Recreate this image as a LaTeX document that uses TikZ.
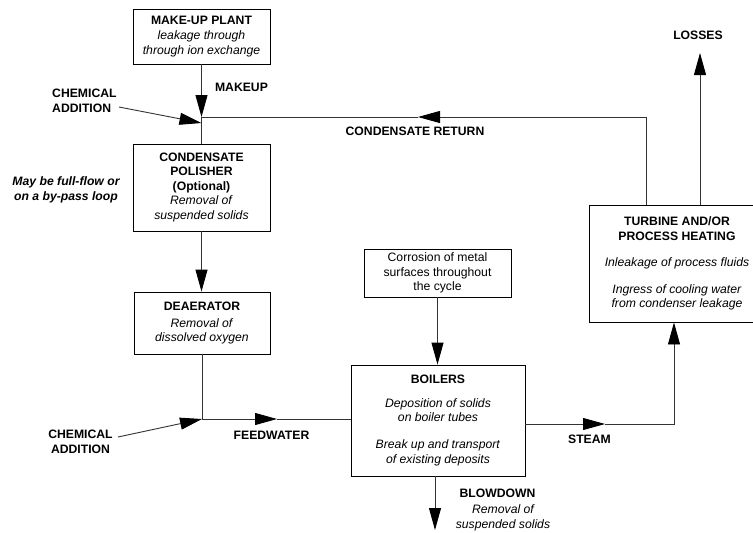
\documentclass[tikz,border=0pt]{standalone}
\usepackage{fontspec}
\setmainfont{Liberation Sans}
\usetikzlibrary{arrows.meta}
\newcommand\myfs{\fontsize{12.2}{14.5}\selectfont}
\begin{document}
\begin{tikzpicture}[x=1pt,y=-1pt,
  box/.style={draw=black, line width=0.9pt, align=center, inner sep=0pt, font=\myfs},
  lbl/.style={align=center, inner sep=0pt, font=\myfs\bfseries},
  conn/.style={draw=black!80, line width=0.9pt},
  arr/.style={conn, -{Triangle[length=22pt,width=12pt,color=black]}},
]
\useasboundingbox (0,0) rectangle (753,533);

% boxes
\node[box, minimum width=137pt, minimum height=55pt] (makeup) at (201.5,36.5)
  {\textbf{MAKE-UP PLANT}\\[1pt]\textit{leakage through}\\\textit{through ion exchange}};
\node[box, minimum width=137pt, minimum height=87pt] (polisher) at (201.5,187.5)
  {\textbf{CONDENSATE}\\\textbf{POLISHER}\\\textbf{(Optional)}\\\textit{Removal of}\\\textit{suspended solids}};
\node[box, minimum width=136pt, minimum height=62pt] (deaerator) at (202,323)
  {\textbf{DEAERATOR}\\[2.5pt]\textit{Removal of}\\\textit{dissolved oxygen}};
\node[box, minimum width=147pt, minimum height=48pt] (corrosion) at (437.5,273)
  {Corrosion of metal\\surfaces throughout\\the cycle};
\node[box, minimum width=174pt, minimum height=111pt] (boilers) at (438,420.5)
  {\textbf{BOILERS}\\[9.5pt]\textit{Deposition of solids}\\\textit{on boiler tubes}\\[12.5pt]\textit{Break up and transport}\\\textit{of existing deposits}};
\node[box, minimum width=176pt, minimum height=117pt] (turbine) at (677,263.5)
  {\textbf{TURBINE AND/OR}\\\textbf{PROCESS HEATING}\\[11.5pt]\textit{Inleakage of process fluids}\\[12.5pt]\textit{Ingress of cooling water}\\\textit{from condenser leakage}};

% labels
\node[lbl] (makeuplbl) at (241.5,87) {MAKEUP};
\node[lbl, anchor=west, align=left] (chem1) at (52,101) {CHEMICAL\\ADDITION};
\node[lbl] (crlbl) at (415,131) {CONDENSATE RETURN};
\node[lbl] (losses) at (698,35) {LOSSES};
\node[lbl, font=\myfs\bfseries\itshape] (note) at (66,190) {May be full-flow or\\on a by-pass loop};
\node[lbl] (chem2) at (80.5,442) {CHEMICAL\\ADDITION};
\node[lbl] (fw) at (271.5,435) {FEEDWATER};
\node[lbl] (steam) at (589.5,439) {STEAM};
\node[lbl] (bd) at (497.5,493) {BLOWDOWN};
\node[lbl, font=\myfs\itshape] (bdnote) at (503,518) {Removal of\\suspended solids};

% junctions and helper coordinates
\coordinate (j1) at (201.5,117);
\coordinate (j2) at (202,419);
\coordinate (c1s) at (119,107);
\coordinate (c1t) at (201.5,123);
\coordinate (c2s) at (118,437);
\coordinate (fwtip) at (277,419);
\coordinate (cr) at (646,117);
\coordinate (crtip) at (418,117);
\coordinate (lossestip) at (700,53);
\coordinate (sttip) at (605,424);
\coordinate (stc) at (674,424);
\coordinate (bdtip) at (435,530);

% connectors
\draw[arr] (makeup) -- (makeup |- j1);
\draw[conn] (j1) -- (polisher);
\draw[arr] (c1s) -- (c1t);
\draw[arr] (turbine.north -| cr) -- (cr) -- (crtip);
\draw[conn] (crtip) -- (j1);
\draw[arr] (turbine.north -| lossestip) -- (lossestip);
\draw[arr] (polisher) -- (polisher |- deaerator.north);
\draw[conn] (deaerator.south -| j2) -- (j2);
\draw[arr] (c2s) -- (j2);
\draw[arr] (j2) -- (fwtip);
\draw[conn] (fwtip) -- (boilers.west |- j2);
\draw[arr] (corrosion) -- (corrosion |- boilers.north);
\draw[arr] (boilers.east |- sttip) -- (sttip);
\draw[arr] (sttip) -- (stc) -- (stc |- turbine.south);
\draw[arr] (boilers.south -| bdtip) -- (bdtip);
\end{tikzpicture}
\end{document}
